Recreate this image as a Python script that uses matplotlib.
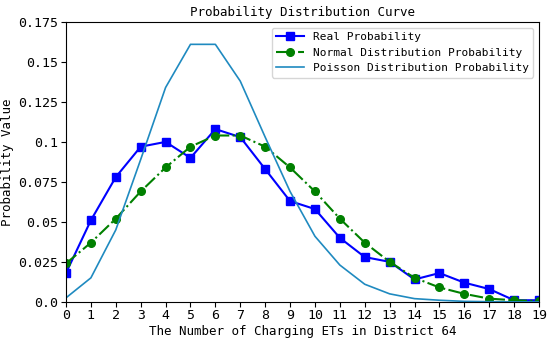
import numpy as np
import matplotlib
import matplotlib.pyplot as plt
from matplotlib.ticker import FixedLocator, FixedFormatter

matplotlib.use('Agg')
plt.rcParams['font.family'] = ['DejaVu Sans Mono']

# values
x = list(range(20))
real_prob = [0.018, 0.051, 0.078, 0.097, 0.100, 0.090, 0.108, 0.103, 0.083, 0.063,
             0.058, 0.040, 0.028, 0.025, 0.014, 0.018, 0.012, 0.008, 0.001, 0.001]
normal_prob = [0.024, 0.037, 0.052, 0.069, 0.084, 0.097, 0.104, 0.104, 0.097, 0.084,
               0.069, 0.052, 0.037, 0.025, 0.015, 0.009, 0.005, 0.002, 0.001, 0.0005]
poisson_prob = [0.0025, 0.015, 0.045, 0.089, 0.134, 0.161, 0.161, 0.138, 0.103, 0.069,
                0.041, 0.023, 0.011, 0.005, 0.002, 0.001, 0.0003, 0.0001, 0.0, 0.0]
y_ticks = [0.0, 0.025, 0.05, 0.075, 0.1, 0.125, 0.15, 0.175]
y_tick_labels = ['0.0', '0.025', '0.05', '0.075', '0.1', '0.125', '0.15', '0.175']

fig = plt.figure(figsize=(5.5, 3.43), dpi=100)
ax = fig.add_axes([0.12, 0.12, 0.86, 0.816])

ax.plot(x, real_prob, color='#0000ff', marker='s', markersize=5.5, lw=1.5, label='Real Probability')
ax.plot(x, normal_prob, color='green', marker='o', markersize=5.5, ls='-.', lw=1.5,
        label='Normal Distribution Probability')
ax.plot(x, poisson_prob, color='#1f8ac0', lw=1.2, label='Poisson Distribution Probability')

ax.set_xlim(0, 19)
ax.set_ylim(0, 0.175)
ax.set_xticks(x)
ax.yaxis.set_major_locator(FixedLocator(y_ticks))
ax.yaxis.set_major_formatter(FixedFormatter(y_tick_labels))
ax.tick_params(labelsize=9.5, pad=2)

ax.set_xlabel('The Number of Charging ETs in District 64', fontsize=9, labelpad=2)
ax.set_ylabel('Probability Value', fontsize=9, labelpad=3)
ax.set_title('Probability Distribution Curve', fontsize=9, pad=4)
ax.legend(loc='upper right', fontsize=8, handlelength=2.5)

plt.savefig('out.png')
